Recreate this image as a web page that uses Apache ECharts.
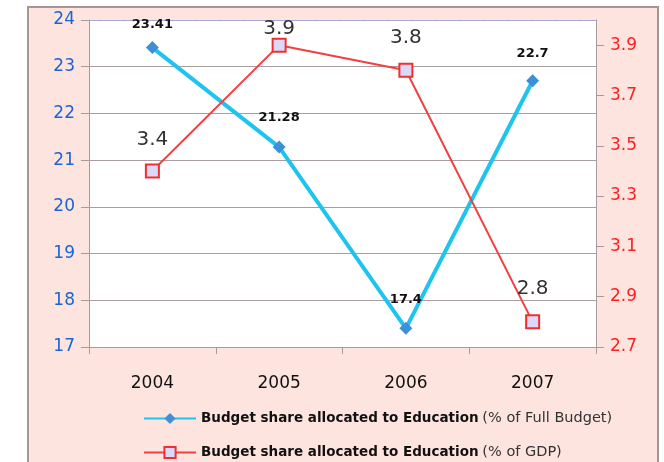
<!DOCTYPE html>
<html>
<head>
<meta charset="utf-8">
<script src="https://cdn.jsdelivr.net/npm/echarts@6/dist/echarts.min.js"></script>
<style>html,body{margin:0;padding:0;background:#fff}#c{width:664px;height:462px}</style>
</head>
<body>
<div id="c"></div>
<script>
const years = ['2004', '2005', '2006', '2007'];
const fullBudgetShare = [23.41, 21.28, 17.4, 22.7];
const gdpShare = [3.4, 3.9, 3.8, 2.8];
const seriesNames = [
  'Budget share allocated to Education (% of Full Budget)',
  'Budget share allocated to Education (% of GDP)'
];
const rightTicks = [2.7, 2.9, 3.1, 3.3, 3.5, 3.7, 3.9];
const blueLabelDist = [10, 16, 16, 14];
const redLabelDist = [14, -1, 15, 16];

const chart = echarts.init(document.getElementById('c'));
const font = 'DejaVu Sans';
const legendText = {
  rich: {
    b: { fontFamily: font, fontWeight: 'bold', fontSize: 13.5, color: '#111' },
    n: { fontFamily: font, fontSize: 14.5, color: '#333' }
  }
};
const legendFmt = function (n) {
  const i = n.indexOf(' (');
  return '{b|' + n.slice(0, i) + '} {n|' + n.slice(i + 1) + '}';
};
chart.setOption({
  animation: false,
  textStyle: { fontFamily: font },
  graphic: [{
    type: 'rect', z: -10,
    shape: { x: 28, y: 7, width: 630, height: 470 },
    style: { fill: '#fde4df', stroke: '#a59595', lineWidth: 2 }
  }],
  grid: { left: 89, top: 20, width: 507, height: 327, show: true, backgroundColor: '#ffffff', borderWidth: 0 },
  legend: [0, 1].map(k => ({
    left: 143, top: k === 0 ? 411 : 445, padding: 0,
    itemWidth: 52, itemHeight: 14, itemGap: 4,
    data: [seriesNames[k]],
    formatter: legendFmt,
    textStyle: legendText
  })),
  xAxis: [{
    type: 'category', data: years, boundaryGap: true,
    axisLine: { lineStyle: { color: '#a49aa0', width: 1 } },
    axisTick: { show: true, length: 7, lineStyle: { color: '#a49aa0' } },
    axisLabel: { fontSize: 17, color: '#111', margin: 28, fontFamily: font }
  }, {
    type: 'category', data: years, position: 'top',
    axisLine: { show: true, lineStyle: { color: '#a8a8e8', type: 'dashed', width: 1 } },
    axisTick: { show: false }, axisLabel: { show: false }
  }],
  yAxis: [{
    type: 'value', min: 17, max: 24, interval: 1,
    axisLine: { show: true, lineStyle: { color: '#a49aa0' } },
    axisTick: { show: true, length: 8, lineStyle: { color: '#a49aa0' } },
    axisLabel: { fontSize: 17, color: '#1a64d4', margin: 14, fontFamily: font },
    splitLine: { show: true, lineStyle: { color: '#ab9c9e', width: 1 } }
  }, {
    type: 'value', min: 2.7, max: 4.0, position: 'right',
    axisLine: { show: true, lineStyle: { color: '#a49aa0' } },
    axisTick: { show: true, length: 8, lineStyle: { color: '#a49aa0' }, customValues: rightTicks },
    axisLabel: { fontSize: 17, color: '#ff1f1f', margin: 14, fontFamily: font,
      customValues: rightTicks, formatter: v => v.toFixed(1) },
    splitLine: { show: false }
  }],
  series: [{
    name: seriesNames[0], type: 'line', yAxisIndex: 0, xAxisIndex: 0,
    data: fullBudgetShare.map((v, i) => ({ value: v, label: { distance: blueLabelDist[i] } })),
    symbol: 'diamond', symbolSize: 13, z: 3,
    lineStyle: { color: '#1ec4f0', width: 4 },
    itemStyle: { color: '#3d8fd8', borderColor: '#3d8fd8', borderWidth: 0 },
    label: { show: true, position: 'top', fontSize: 13, fontWeight: 'bold', color: '#111', fontFamily: font }
  }, {
    name: seriesNames[1], type: 'line', yAxisIndex: 1, xAxisIndex: 0,
    data: gdpShare.map((v, i) => ({ value: v, label: { distance: redLabelDist[i] } })),
    symbol: 'rect', symbolSize: 13, z: 4,
    lineStyle: { color: '#f04040', width: 2 },
    itemStyle: { color: '#dcd8fa', borderColor: '#f03030', borderWidth: 2 },
    label: { show: true, position: 'top', fontSize: 20, color: '#333', fontFamily: font }
  }]
});
</script>
</body>
</html>
